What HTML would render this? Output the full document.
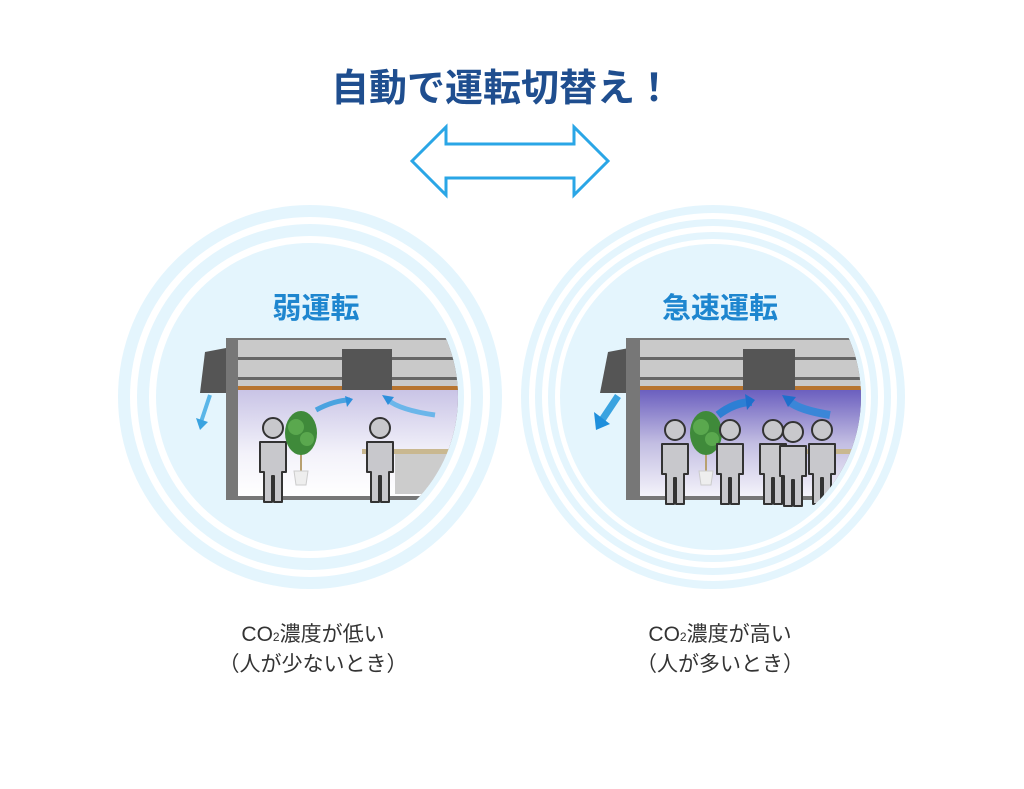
<!DOCTYPE html>
<html><head><meta charset="utf-8"><style>
body{margin:0;background:#fff;width:1024px;height:784px;overflow:hidden;font-family:"Liberation Sans","Noto Sans CJK JP",sans-serif}
</style></head><body>
<svg width="1024" height="784" viewBox="0 0 1024 784" xmlns="http://www.w3.org/2000/svg" font-family="Liberation Sans, Noto Sans CJK JP, sans-serif">
<defs>
<clipPath id="cl"><circle cx="310" cy="397" r="148"/></clipPath>
<clipPath id="cr"><circle cx="713" cy="397" r="148"/></clipPath>
<linearGradient id="gl" x1="0" y1="0" x2="0" y2="1"><stop offset="0" stop-color="#c9c4e6"/><stop offset="0.6" stop-color="#f3f2fa"/><stop offset="1" stop-color="#fff"/></linearGradient>
<linearGradient id="gr" x1="0" y1="0" x2="0" y2="1"><stop offset="0" stop-color="#6b5fbf"/><stop offset="0.5" stop-color="#c2bde2"/><stop offset="1" stop-color="#f4f3fa"/></linearGradient>
<g id="person"><circle cx="0" cy="0" r="10" fill="#c8c8cc" stroke="#333" stroke-width="2"/><path d="M-13 14 h26 v30 h-4 v30 h-8 v-26 h-2 v26 h-8 v-30 h-4z" fill="#c8c8cc" stroke="#333" stroke-width="2" stroke-linejoin="round"/></g>
<g id="plant"><rect x="-1" y="0" width="2" height="60" fill="#b8a070"/><ellipse cx="0" cy="20" rx="16" ry="22" fill="#3f8a3a"/><ellipse cx="-5" cy="14" rx="8" ry="8" fill="#5aa84e"/><ellipse cx="6" cy="26" rx="7" ry="7" fill="#5aa84e"/><path d="M-7 58 h14 l-2 14 h-10z" fill="#eee" stroke="#ccc"/></g>
</defs>
<text x="502" y="101" text-anchor="middle" font-size="38" font-weight="bold" fill="#1f4e8f">自動で運転切替え！</text>
<path d="M412 161 L446 127 V144 H574 V127 L608 161 L574 195 V178 H446 V195 Z" fill="#fff" stroke="#2aa6e6" stroke-width="3"/>
<circle cx="310" cy="397" r="192" fill="#e4f5fd"/>
<circle cx="310" cy="397" r="180" fill="#fff"/>
<circle cx="310" cy="397" r="173" fill="#e4f5fd"/>
<circle cx="310" cy="397" r="161" fill="#fff"/>
<circle cx="310" cy="397" r="154" fill="#e4f5fd"/>
<circle cx="713" cy="397" r="192" fill="#e4f5fd"/>
<circle cx="713" cy="397" r="184" fill="#fff"/>
<circle cx="713" cy="397" r="178" fill="#e4f5fd"/>
<circle cx="713" cy="397" r="171" fill="#fff"/>
<circle cx="713" cy="397" r="165" fill="#e4f5fd"/>
<circle cx="713" cy="397" r="158" fill="#fff"/>
<circle cx="713" cy="397" r="153" fill="#e4f5fd"/>
<text x="316" y="318" text-anchor="middle" font-size="29" font-weight="bold" fill="#1e86cf">弱運転</text>
<text x="720" y="318" text-anchor="middle" font-size="29" font-weight="bold" fill="#1e86cf">急速運転</text>
<g>
<path d="M205 352 L226 348 V393 H200 Z" fill="#555"/>
<path d="M210 395 L200 425" stroke="#5ab6e8" stroke-width="4"/><path d="M196 418 l4 12 l8 -8z" fill="#3aa3e0"/>
<g clip-path="url(#cl)">
<rect x="226" y="338" width="240" height="162" fill="#777"/>
<rect x="238" y="340" width="230" height="46" fill="#c9c9c9"/>
<rect x="238" y="357" width="230" height="3" fill="#666"/><rect x="238" y="377" width="230" height="3" fill="#666"/>
<rect x="238" y="386" width="230" height="4" fill="#b7742f"/>
<rect x="238" y="390" width="230" height="106" fill="url(#gl)"/>
<rect x="342" y="349" width="50" height="41" fill="#555"/>
<rect x="362" y="449" width="100" height="5" fill="#c9b890"/>
<rect x="395" y="454" width="70" height="40" fill="#ccc"/>
<path d="M316 410 Q335 400 350 400" stroke="#4aa3e0" stroke-width="5" fill="none"/><path d="M345 396 l8 3 l-6 8z" fill="#2d8fdc"/>
<path d="M435 415 Q400 410 388 400" stroke="#6bb6ea" stroke-width="5" fill="none"/><path d="M382 395 l12 2 l-6 8z" fill="#2d8fdc"/>
<use href="#person" x="273" y="428"/>
<use href="#plant" x="301" y="413"/>
<use href="#person" x="380" y="428"/>
</g>
</g>
<g>
<path d="M608 352 L629 348 V393 H600 Z" fill="#555"/>
<path d="M618 396 L602 420" stroke="#3aa3e0" stroke-width="7"/><path d="M594 412 l2 18 l14 -6z" fill="#1e8fdc"/>
<g clip-path="url(#cr)">
<rect x="626" y="338" width="240" height="162" fill="#777"/>
<rect x="640" y="340" width="230" height="46" fill="#c9c9c9"/>
<rect x="640" y="357" width="230" height="3" fill="#666"/><rect x="640" y="377" width="230" height="3" fill="#666"/>
<rect x="640" y="386" width="230" height="4" fill="#b7742f"/>
<rect x="640" y="390" width="230" height="106" fill="url(#gr)"/>
<rect x="743" y="349" width="52" height="41" fill="#555"/>
<rect x="800" y="449" width="60" height="5" fill="#c9b890"/>
<path d="M718 415 Q735 402 752 402" stroke="#2d7fd4" stroke-width="8" fill="none"/><path d="M745 394 l10 6 l-8 10z" fill="#1e6fcc"/>
<path d="M830 415 Q800 410 790 402" stroke="#3a86d8" stroke-width="8" fill="none"/><path d="M782 395 l14 2 l-8 10z" fill="#1e6fcc"/>
<use href="#person" x="675" y="430"/>
<use href="#plant" x="706" y="413"/>
<use href="#person" x="730" y="430"/>
<use href="#person" x="773" y="430"/>
<use href="#person" x="793" y="432"/>
<use href="#person" x="822" y="430"/>
</g>
</g>
<text x="313" y="641" text-anchor="middle" font-size="21" fill="#333">CO<tspan font-size="12">2</tspan>濃度が低い</text>
<text x="313" y="671" text-anchor="middle" font-size="21" fill="#333">（人が少ないとき）</text>
<text x="720" y="641" text-anchor="middle" font-size="21" fill="#333">CO<tspan font-size="12">2</tspan>濃度が高い</text>
<text x="720" y="671" text-anchor="middle" font-size="21" fill="#333">（人が多いとき）</text>
</svg>
</body></html>
